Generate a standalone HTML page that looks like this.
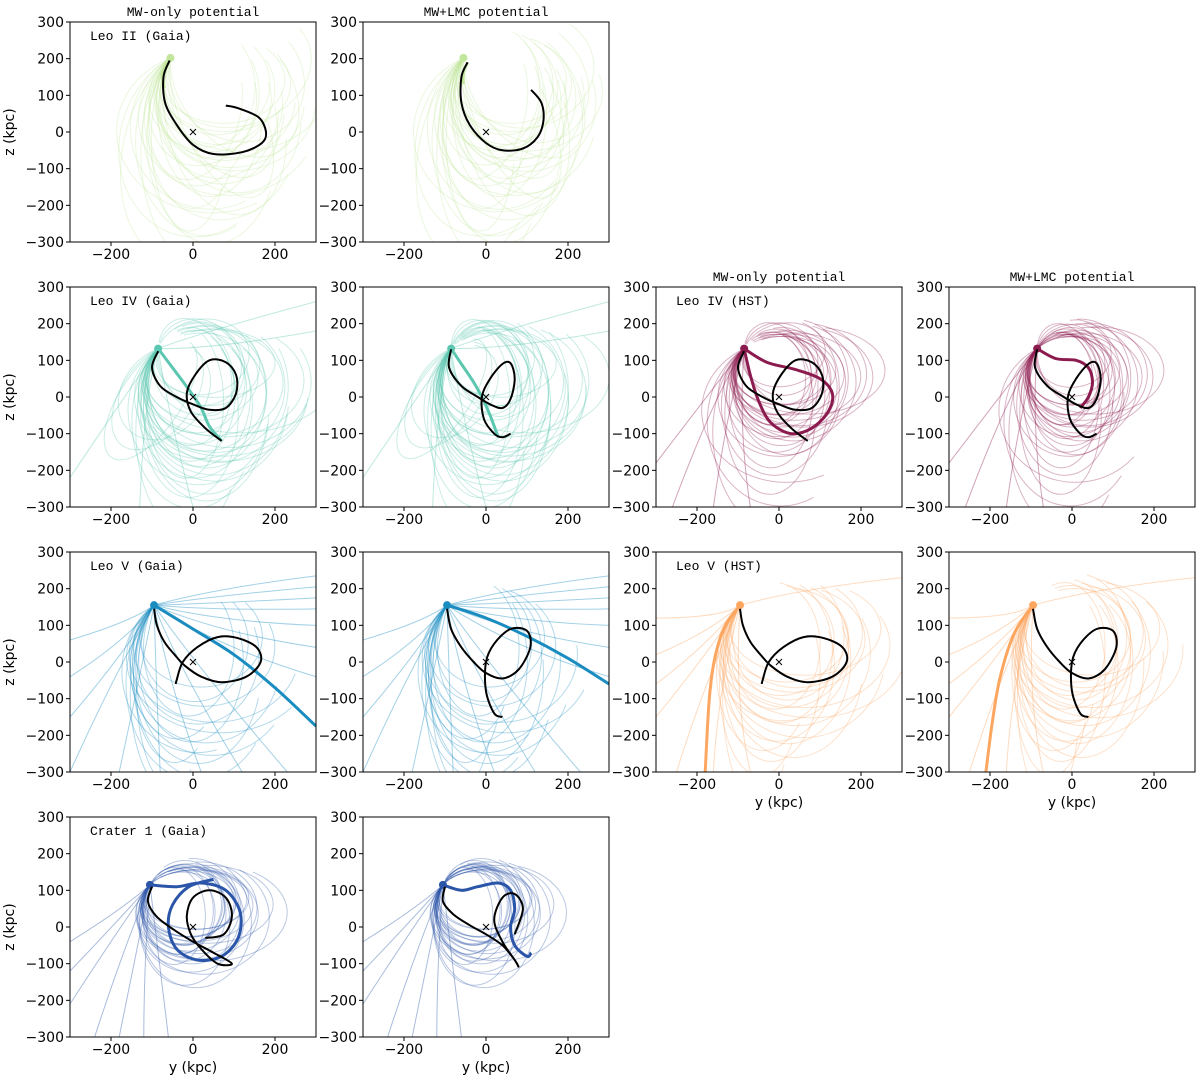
<!DOCTYPE html>
<html><head><meta charset="utf-8"><style>
body{margin:0;background:#fff}
svg{display:block}
text{font-family:"DejaVu Sans","Liberation Sans",sans-serif;fill:#000}
.mono{font-family:"Liberation Mono","DejaVu Sans Mono",monospace}
</style></head><body>
<svg id="c" width="1200" height="1081" viewBox="0 0 1200 1081"></svg>
<script>
// ---- data (kpc) ----
const xTicks=[-200,0,200];
const yTicks=[-300,-200,-100,0,100,200,300];
const panelLabels=["Leo II (Gaia)","","Leo IV (Gaia)","","Leo IV (HST)","","Leo V (Gaia)","","Leo V (HST)","","Crater 1 (Gaia)",""];
const panelCols=[0,1,0,1,2,3,0,1,2,3,0,1];
const panelRows=[0,0,1,1,1,1,2,2,2,2,3,3];
const panelObj=["leo2","leo2","leo4","leo4","leo4h","leo4h","leo5","leo5","leo5h","leo5h","cra","cra"];
const objColor={leo2:"#c2e69b",leo4:"#5cc7b0",leo4h:"#8b1a4f",leo5:"#1a8cc0",leo5h:"#fda660",cra:"#2a55a8"};
const objStart={leo2:[-55,202],leo4:[-85,132],leo4h:[-85,132],leo5:[-95,155],leo5h:[-95,155],cra:[-105,115]};
const arcScales=[1,0.85,1.15];
// faint orbit arcs starting at the start point: [rx,ry,rotDeg,t0,t1]
const arcsLeo2=[[150,200,0,140,360],[170,230,10,135,350],[130,170,-10,140,390],[190,250,0,130,330],[140,150,0,145,400],[120,210,20,130,350],[200,260,-10,125,310],[130,140,0,150,410],[110,220,0,120,330],[180,190,0,145,360],[170,260,0,120,300],[160,180,30,135,370]];
const arcsLeo4=[[150,170,0,140,470],[170,180,0,145,410],[120,140,0,140,470],[180,220,0,140,360],[140,200,0,130,410],[100,120,20,145,500],[150,240,0,125,330],[200,180,0,150,390],[90,160,-30,135,450],[130,110,0,155,490],[180,210,0,140,350],[110,180,0,135,430]];
const arcsLeo4h=[[120,130,0,140,480],[140,140,0,140,460],[100,110,0,140,490],[150,160,0,145,440],[120,160,0,130,440],[90,100,20,145,500],[130,190,0,125,350],[160,140,0,150,440],[110,110,0,140,480],[180,230,0,120,300]];
const arcsLeo5=[[150,190,0,135,390],[180,220,0,135,350],[130,160,0,140,410],[200,240,0,135,320],[100,230,0,120,310],[160,260,0,125,290]];
const arcsLeo5h=[[150,170,0,140,430],[180,200,0,140,390],[130,150,0,140,450],[200,220,0,140,350],[140,210,0,130,390],[100,250,0,120,320],[160,150,0,150,420]];
const arcsCra=[[120,115,0,145,490],[100,105,0,145,510],[140,125,0,150,460],[90,115,0,140,510],[110,100,0,155,490],[130,145,0,140,440],[110,95,0,150,480],[160,155,0,145,420]];
const objArcs={leo2:arcsLeo2,leo4:arcsLeo4,leo4h:arcsLeo4h,leo5:arcsLeo5,leo5h:arcsLeo5h,cra:arcsCra};
// fan lines: [ctrlX,ctrlY,endX,endY]
const fanLeo4=[[0,170,300,260],[50,130,300,180],[-120,0,-130,-300],[-150,30,-300,-220],[-60,-50,0,-300]];
const fanLeo4h=[[-150,40,-300,-180],[-160,0,-260,-300],[-130,-60,-160,-300],[-100,-80,-70,-300]];
const fanLeo5=[[50,200,300,235],[50,180,300,205],[50,160,300,175],[50,140,300,145],[60,110,300,100],[60,80,300,40],[60,40,300,-40],[0,0,230,-300],[-30,-30,120,-300],[-60,-60,20,-300],[-90,-60,-80,-300],[-130,-40,-180,-300],[-170,20,-300,-150],[-160,60,-300,-40],[-200,-50,-300,-300],[-150,110,-300,60]];
const fanLeo5h=[[-170,80,-300,20],[-180,40,-300,-60],[-190,0,-300,-150],[-180,-50,-250,-300],[-150,-80,-160,-300],[-110,-100,-70,-300],[-140,120,-300,120],[50,200,300,230]];
const fanCra=[[-170,50,-300,-40],[-180,20,-300,-120],[-190,-20,-300,-210],[-170,-60,-240,-300],[-140,-80,-180,-300],[-120,-100,-120,-300],[-80,-120,-60,-300]];
const objFans={leo2:[],leo4:fanLeo4,leo4h:fanLeo4h,leo5:fanLeo5,leo5h:fanLeo5h,cra:fanCra};
// black (reference) orbits, per panel
const blackOrbits=[
 [[-57,195],[-72,150],[-68,80],[-40,20],[0,-35],[50,-60],[120,-55],[168,-30],[178,0],[160,40],[110,65],[80,72]],
 [[-45,190],[-60,150],[-60,80],[-40,20],[0,-30],[40,-50],[90,-45],[125,-15],[140,30],[135,80],[110,115]],
 [[-85,125],[-100,80],[-80,30],[-40,0],[0,-20],[40,-35],[80,-30],[105,10],[105,60],[80,95],[40,100],[5,60],[-15,10],[-5,-40],[30,-85],[70,-120]],
 [[-85,130],[-90,80],[-60,30],[-20,0],[10,-20],[40,-30],[60,-5],[70,50],[60,92],[40,90],[10,50],[-10,0],[-5,-60],[20,-100],[40,-110],[60,-100]],
 [[-85,125],[-100,80],[-80,30],[-40,0],[0,-20],[40,-35],[80,-30],[105,10],[105,60],[80,95],[40,100],[5,60],[-15,10],[-5,-40],[30,-85],[70,-120]],
 [[-85,130],[-90,80],[-60,30],[-20,0],[10,-20],[40,-30],[60,-5],[70,50],[60,92],[40,90],[10,50],[-10,0],[-5,-60],[20,-100],[40,-110],[60,-100]],
 [[-95,145],[-88,100],[-70,55],[-45,20],[-20,-10],[20,-40],[70,-55],[130,-40],[165,0],[155,40],[110,65],[60,68],[10,40],[-25,0],[-40,-50],[-42,-60]],
 [[-95,145],[-85,90],[-60,40],[-30,0],[0,-30],[40,-45],[80,-20],[108,40],[100,85],[60,90],[20,50],[0,0],[0,-80],[20,-140],[40,-150]],
 [[-95,145],[-88,100],[-70,55],[-45,20],[-20,-10],[20,-40],[70,-55],[130,-40],[165,0],[155,40],[110,65],[60,68],[10,40],[-25,0],[-40,-50],[-42,-60]],
 [[-95,145],[-85,90],[-60,40],[-30,0],[0,-30],[40,-45],[80,-20],[108,40],[100,85],[60,90],[20,50],[0,0],[0,-80],[20,-140],[40,-150]],
 [[-100,110],[-110,70],[-90,30],[-50,-5],[0,-40],[50,-70],[95,-100],[60,-100],[20,-60],[-5,-20],[-15,30],[0,80],[40,100],[80,80],[95,30],[75,-20],[30,-30]],
 [[-100,110],[-105,70],[-80,35],[-40,5],[0,-20],[40,-50],[70,-90],[80,-110],[70,-90],[40,-40],[20,20],[40,80],[70,90],[90,50],[70,-20]]
];
// bold coloured orbits, per panel
const boldOrbits=[
 [[-60,200],[-75,160],[-70,120]],
 [[-45,190],[-55,160],[-55,130]],
 [[-85,132],[-50,80],[-10,20],[20,-30],[40,-80],[70,-120]],
 [[-85,132],[-60,90],[-30,40],[-10,0],[10,-50],[30,-110]],
 [[-85,132],[-30,95],[40,75],[100,50],[130,10],[120,-40],[80,-85],[30,-100],[-20,-70],[-50,-10],[-70,60],[-85,132]],
 [[-85,132],[-40,105],[10,100],[40,80],[50,40],[40,0],[20,-30]],
 [[-95,155],[0,90],[100,20],[200,-70],[300,-175]],
 [[-95,155],[0,120],[100,70],[200,10],[300,-60]],
 [[-95,155],[-130,100],[-155,20],[-170,-100],[-180,-300]],
 [[-95,155],[-140,80],[-175,-40],[-195,-170],[-210,-300]],
 [[-105,115],[-40,110],[20,120],[80,100],[115,40],[110,-30],[70,-80],[10,-90],[-40,-60],[-60,0],[-50,60],[-10,110],[50,130]],
 [[-105,115],[-60,100],[-20,110],[30,120],[60,100],[70,50],[60,0],[70,-50],[100,-80],[110,-70]]
];
// ---- rendering ----
const NS="http://www.w3.org/2000/svg";
const svg=document.getElementById('c');
function mk(tag,attrs,parent){const e=document.createElementNS(NS,tag);for(const k in attrs)e.setAttribute(k,attrs[k]);(parent||svg).appendChild(e);return e;}
function smooth(pts){let d="M"+pts[0][0].toFixed(1)+","+pts[0][1].toFixed(1);
 for(let i=0;i<pts.length-1;i++){const p0=pts[i-1]||pts[i],p1=pts[i],p2=pts[i+1],p3=pts[i+2]||p2;
  const c1=[p1[0]+(p2[0]-p0[0])/6,p1[1]+(p2[1]-p0[1])/6],c2=[p2[0]-(p3[0]-p1[0])/6,p2[1]-(p3[1]-p1[1])/6];
  d+="C"+c1[0].toFixed(1)+","+c1[1].toFixed(1)+" "+c2[0].toFixed(1)+","+c2[1].toFixed(1)+" "+p2[0].toFixed(1)+","+p2[1].toFixed(1);}
 return d;}
const W=246,H=220;
mk('defs',{});
for(let i=0;i<12;i++){
 const col=panelCols[i],row=panelRows[i],obj=panelObj[i];
 const L=70+col*293,T=22+row*265;
 const sx=v=>L+(v+300)*W/600, sy=v=>T+(300-v)*H/600;
 const g=mk('g',{});
 
 
 const cp=mk('clipPath',{id:'cp'+i},svg.querySelector('defs'));
 mk('rect',{x:L,y:T,width:W,height:H},cp);
 const plot=mk('g',{'clip-path':'url(#cp'+i+')'},g);
 const colr=objColor[obj],st=objStart[obj];
 arcScales.forEach((sc,si)=>{
 objArcs[obj].forEach((a,k)=>{let [rx,ry,rot,t0,t1]=a;rx*=sc;ry*=(2-sc);
  if(i%2){rx*=0.9;t1+=20;}
  const th=rot*Math.PI/180;
  const off=t=>{const r=t*Math.PI/180;const ex=rx*Math.cos(r),ey=ry*Math.sin(r);return [ex*Math.cos(th)-ey*Math.sin(th),ex*Math.sin(th)+ey*Math.cos(th)];};
  const o0=off(t0);const cx=st[0]-o0[0],cy=st[1]-o0[1];
  const pts=[];
  for(let t=t0;t<=t1;t+=8){const o=off(t);pts.push([sx(cx+o[0]),sy(cy+o[1])]);}
  const p=mk('path',{d:smooth(pts),fill:'none',stroke:colr,'stroke-width':1,opacity:0.32},plot);
  
  });
 });
 objFans[obj].forEach(f=>{const d="M"+sx(st[0])+","+sy(st[1])+"Q"+sx(f[0])+","+sy(f[1])+" "+sx(f[2])+","+sy(f[3]);
  const p=mk('path',{d:d,fill:'none',stroke:colr,'stroke-width':1,opacity:0.4},plot);
  
  });
 const bp=mk('path',{d:smooth(boldOrbits[i].map(p=>[sx(p[0]),sy(p[1])])),fill:'none',stroke:colr,'stroke-width':3},plot);
 
 
 const dot=mk('circle',{cx:sx(st[0]),cy:sy(st[1]),r:4,fill:colr},plot);
 
 
 const kp=mk('path',{d:smooth(blackOrbits[i].map(p=>[sx(p[0]),sy(p[1])])),fill:'none',stroke:'#000','stroke-width':2},plot);
 
 
 const x0=sx(0),y0=sy(0);
 const cr=mk('path',{d:`M${x0-3},${y0-3}L${x0+3},${y0+3}M${x0-3},${y0+3}L${x0+3},${y0-3}`,stroke:'#000','stroke-width':1},plot);
 
 
 mk('rect',{x:L,y:T,width:W,height:H,fill:'none',stroke:'#000','stroke-width':1},g);
 xTicks.forEach(v=>{mk('line',{x1:sx(v),x2:sx(v),y1:T+H,y2:T+H+4,stroke:'#000'},g);
  const t=mk('text',{x:sx(v),y:T+H+17,'text-anchor':'middle','font-size':14},g);t.textContent=v<0?'\u2212'+(-v):v;
  
  });
 yTicks.forEach(v=>{mk('line',{x1:L-4,x2:L,y1:sy(v),y2:sy(v),stroke:'#000'},g);
  const t=mk('text',{x:L-6,y:sy(v)+5,'text-anchor':'end','font-size':14},g);t.textContent=v<0?'\u2212'+(-v):v;
  
  });
 if(panelLabels[i]){const t=mk('text',{x:L+20,y:T+18,'font-size':13,class:'mono'},g);t.textContent=panelLabels[i];
  
  }
 if(col===0){const t=mk('text',{x:0,y:0,'font-size':14,'text-anchor':'middle',transform:`translate(${L-56},${T+H/2}) rotate(-90)`},g);t.textContent='z (kpc)';
  
  }
 if((row===3)||(row===2&&col>=2)){const t=mk('text',{x:L+W/2,y:T+H+35,'font-size':14,'text-anchor':'middle'},g);t.textContent='y (kpc)';
  
  }
 if((row===0&&col<2)||(row===1&&col>=2)){const t=mk('text',{x:L+W/2,y:T-6,'font-size':13,'text-anchor':'middle',class:'mono'},g);t.textContent=(col%2===0)?'MW-only potential':'MW+LMC potential';
  
  }
}
</script>
</body></html>
